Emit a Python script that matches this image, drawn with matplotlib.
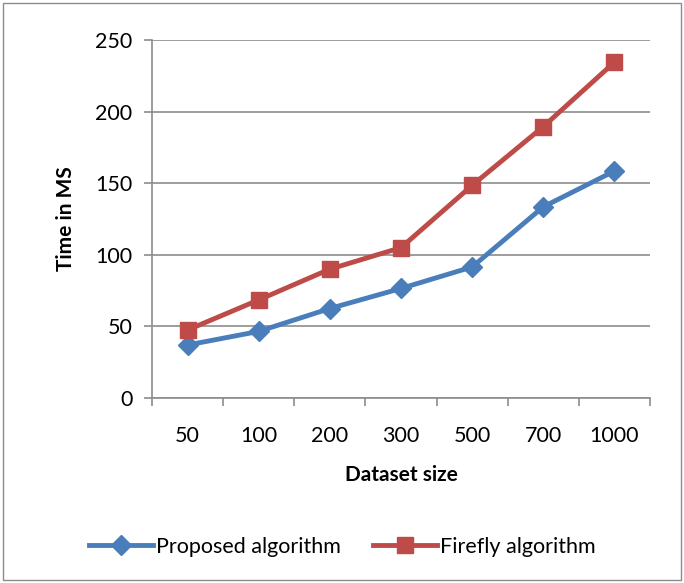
import matplotlib.pyplot as plt
from matplotlib.patches import Rectangle

sizes = ["50", "100", "200", "300", "500", "700", "1000"]
proposed = [37, 46.5, 62.5, 76.5, 91.5, 133.5, 158.5]
firefly = [47.5, 68.5, 90, 105, 148.5, 189.5, 234.5]

plt.rcParams['font.family'] = ['Lato', 'DejaVu Sans']

fig = plt.figure(figsize=(6.84, 5.83), dpi=100)
ax = fig.add_axes([152 / 684, 1 - 398 / 583, 498 / 684, 358 / 583])

x = list(range(len(sizes)))
ax.plot(x, proposed, color="#4a7ebb", lw=3.5, marker="D", ms=10,
        label="Proposed algorithm")
ax.plot(x, firefly, color="#be4b48", lw=3.5, marker="s", ms=12,
        label="Firefly algorithm")

ax.set_xlim(-0.5, 6.5)
ax.set_ylim(0, 250)
ax.set_yticks(range(0, 251, 50))
ax.yaxis.grid(True, color="#8c8c8c", lw=1.2)
ax.set_axisbelow(True)

ax.set_xticks(x)
ax.set_xticklabels(sizes)
ax.set_xticks([i - 0.5 for i in range(len(sizes) + 1)], minor=True)
ax.tick_params(axis="x", which="major", length=0, pad=20, labelsize=15.5)
ax.tick_params(axis="x", which="minor", length=6, color="#8c8c8c", width=1.2)
ax.tick_params(axis="y", length=6, color="#8c8c8c", width=1.2, labelsize=15.5, pad=8)

for s in ["top", "right"]:
    ax.spines[s].set_visible(False)
for s in ["left", "bottom"]:
    ax.spines[s].set_color("#8c8c8c")
    ax.spines[s].set_linewidth(1.2)

ax.set_ylabel("Time in MS", fontsize=15, fontweight="bold", labelpad=14)
ax.set_xlabel("Dataset size", fontsize=15, fontweight="bold", labelpad=14)

fig.legend(loc="center", bbox_to_anchor=(0.5, 1 - 547 / 583), ncol=2,
           frameon=False, fontsize=15.5, handlelength=3, columnspacing=1.5,
           handletextpad=0.1)

fig.patches.append(Rectangle((0.005, 0.005), 0.99, 0.99, transform=fig.transFigure,
                             fill=False, edgecolor="#8c8c8c", lw=1))

fig.savefig("out.png", dpi=100)
